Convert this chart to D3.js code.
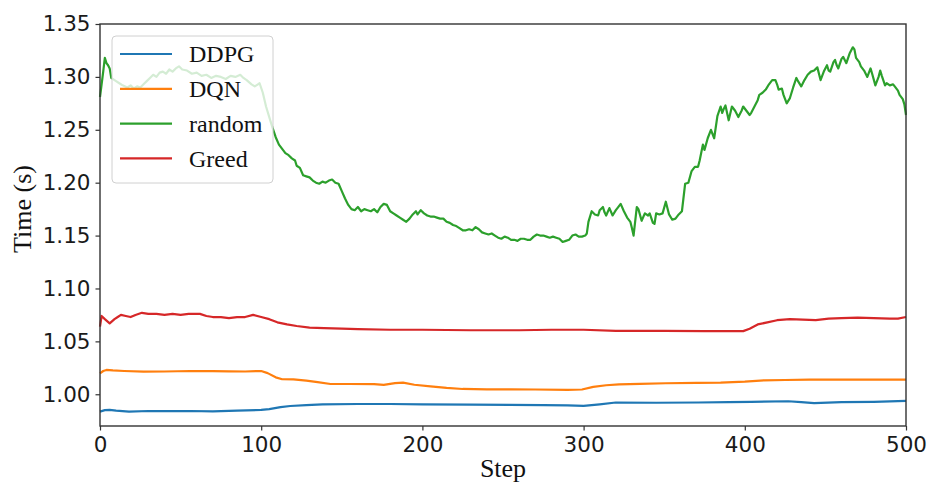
<!DOCTYPE html>
<html>
<head>
<meta charset="utf-8">
<script src="https://cdn.jsdelivr.net/npm/d3@7"></script>
<style>
  html, body { margin: 0; padding: 0; background: #fff; }
  svg { display: block; }
</style>
</head>
<body>
<svg id="chart" width="934" height="482"></svg>
<script>
// ---- data ----
const seriesNames = ["DDPG", "DQN", "random", "Greed"];
const seriesColors = ["#1f77b4", "#ff7f0e", "#2ca02c", "#d62728"];

const ddpgSteps = [0,3,6,10,18,30,45,56,70,85,100,105,112,118,128,138,160,180,200,230,254,275,290,300,310,320,345,371,390,404,427,435,443,460,480,500];
const ddpgValues = [0.9836,0.985,0.9852,0.9845,0.9836,0.9842,0.984,0.9842,0.9838,0.9845,0.9852,0.986,0.9878,0.9889,0.9898,0.9905,0.9908,0.9908,0.9905,0.9902,0.9899,0.9898,0.9895,0.989,0.9905,0.9922,0.992,0.9922,0.9925,0.9928,0.9934,0.9925,0.9916,0.9925,0.9928,0.9937];

const dqnSteps = [0,2,4,8,15,27,40,56,70,80,90,100,104,109,113,120,128,135,143,155,170,176,183,188,195,205,215,225,240,255,270,290,299,306,314,322,335,351,370,385,400,412,425,440,460,480,500];
const dqnValues = [1.0198,1.022,1.023,1.0225,1.022,1.0214,1.0215,1.022,1.0218,1.0217,1.0215,1.022,1.020,1.016,1.0142,1.014,1.0129,1.0115,1.0097,1.0097,1.0095,1.0088,1.0105,1.011,1.009,1.0075,1.006,1.005,1.0047,1.0047,1.0045,1.0042,1.0045,1.007,1.0085,1.0094,1.0098,1.0104,1.0108,1.011,1.0119,1.0132,1.0135,1.0138,1.0138,1.0138,1.0138];

const randomSteps = [0,2,3,4,5,6,7,9,12,14,17,19,21,23,25,27,29,31,33,35,37,39,41,43,45,47,49,51,54,57,60,63,66,69,72,75,78,81,84,87,89,91,94,96,98,99,101,103,105,107,109,111,113,115,117,119,121,122,124,126,128,130,132,134,136,138,140,142,144,146,148,150,152,154,156,158,160,162,164,166,168,170,172,174,176,178,180,182,184,186,188,190,192,194,196,197,199,201,203,205,207,209,211,213,215,217,219,221,223,225,227,229,231,233,235,237,239,241,243,245,247,249,251,253,255,257,259,261,263,265,267,269,271,273,275,277,279,281,283,285,287,289,291,293,295,297,299,301,302,303,305,307,309,310,312,313,314,316,318,320,321,323,325,327,329,330,331,333,334,336,338,340,341,343,344,345,347,349,351,353,355,357,359,361,363,365,367,369,371,372,374,375,377,379,381,383,385,386,387,388,390,392,394,396,398,399,401,403,404,406,408,409,411,413,415,417,419,420,421,423,424,426,428,430,432,433,435,437,439,441,443,445,447,449,451,452,453,455,456,457,458,460,461,463,465,467,468,469,471,472,474,476,478,479,481,483,484,485,487,488,490,492,493,495,496,498,499,500];
const randomValues = [1.281,1.305,1.318,1.313,1.311,1.308,1.299,1.297,1.294,1.292,1.290,1.292,1.289,1.291,1.290,1.293,1.296,1.299,1.302,1.300,1.304,1.305,1.303,1.307,1.305,1.308,1.310,1.307,1.306,1.303,1.304,1.301,1.302,1.299,1.301,1.300,1.298,1.301,1.300,1.302,1.299,1.297,1.293,1.291,1.293,1.294,1.285,1.272,1.262,1.252,1.243,1.236,1.232,1.228,1.226,1.223,1.221,1.216,1.214,1.207,1.206,1.205,1.202,1.200,1.199,1.201,1.200,1.202,1.203,1.200,1.199,1.192,1.185,1.179,1.175,1.174,1.177,1.173,1.175,1.174,1.173,1.175,1.172,1.177,1.180,1.179,1.173,1.171,1.169,1.167,1.165,1.163,1.166,1.170,1.173,1.170,1.174,1.171,1.169,1.168,1.168,1.167,1.166,1.166,1.163,1.162,1.160,1.159,1.157,1.155,1.155,1.156,1.155,1.158,1.156,1.153,1.152,1.151,1.152,1.150,1.148,1.147,1.149,1.148,1.146,1.146,1.145,1.147,1.147,1.146,1.146,1.149,1.151,1.150,1.150,1.149,1.148,1.149,1.148,1.147,1.144,1.145,1.146,1.150,1.151,1.149,1.149,1.150,1.152,1.163,1.173,1.170,1.169,1.174,1.177,1.172,1.169,1.176,1.169,1.174,1.176,1.180,1.173,1.167,1.163,1.157,1.150,1.177,1.175,1.164,1.171,1.169,1.171,1.162,1.161,1.171,1.170,1.171,1.182,1.170,1.165,1.166,1.170,1.173,1.199,1.200,1.211,1.215,1.215,1.221,1.236,1.231,1.242,1.250,1.242,1.263,1.272,1.266,1.270,1.273,1.259,1.272,1.268,1.262,1.268,1.272,1.268,1.264,1.266,1.272,1.278,1.283,1.285,1.288,1.293,1.297,1.297,1.293,1.288,1.289,1.283,1.275,1.280,1.290,1.299,1.296,1.291,1.297,1.302,1.305,1.306,1.309,1.297,1.305,1.311,1.306,1.305,1.314,1.316,1.311,1.308,1.317,1.319,1.313,1.322,1.328,1.326,1.318,1.314,1.310,1.306,1.300,1.308,1.303,1.292,1.300,1.306,1.301,1.292,1.294,1.292,1.293,1.291,1.287,1.283,1.279,1.274,1.264];

const greedSteps = [0,1,3,6,9,11,13,16,19,22,26,30,35,40,45,50,55,62,66,70,75,80,85,90,95,100,105,110,116,122,130,139,150,160,180,200,230,260,280,300,320,350,375,399,403,408,414,420,428,436,444,452,460,470,480,490,495,500];
const greedValues = [1.064,1.074,1.071,1.067,1.071,1.073,1.075,1.074,1.073,1.075,1.077,1.076,1.076,1.075,1.076,1.075,1.076,1.076,1.074,1.073,1.073,1.072,1.073,1.073,1.075,1.073,1.071,1.068,1.066,1.0645,1.063,1.0625,1.062,1.0615,1.061,1.061,1.0605,1.0605,1.061,1.061,1.060,1.060,1.0597,1.0597,1.062,1.066,1.068,1.070,1.071,1.0705,1.070,1.0715,1.072,1.0725,1.072,1.0715,1.0715,1.073];

const xTicks = [0, 100, 200, 300, 400, 500];
const yTicks = [1.00, 1.05, 1.10, 1.15, 1.20, 1.25, 1.30, 1.35];
const xLabel = "Step";
const yLabel = "Time (s)";

// ---- chart ----
const svg = d3.select("#chart");
const plotLeft = 100, plotRight = 906, plotTop = 24, plotBottom = 426;

const x = d3.scaleLinear().domain([0, 500]).range([plotLeft, plotRight]);
const y = d3.scaleLinear().domain([0.97, 1.35]).range([plotBottom, plotTop]);

const series = [
  { name: seriesNames[0], color: seriesColors[0], steps: ddpgSteps, values: ddpgValues },
  { name: seriesNames[1], color: seriesColors[1], steps: dqnSteps, values: dqnValues },
  { name: seriesNames[2], color: seriesColors[2], steps: randomSteps, values: randomValues },
  { name: seriesNames[3], color: seriesColors[3], steps: greedSteps, values: greedValues }
];

const line = d3.line().x(d => x(d[0])).y(d => y(d[1]));

svg.append("g").selectAll("path")
  .data(series)
  .join("path")
  .attr("d", s => line(s.steps.map((st, i) => [st, s.values[i]])))
  .attr("fill", "none")
  .attr("stroke", s => s.color)
  .attr("stroke-width", 2.2)
  .attr("stroke-linejoin", "round");

// axes
const tickFont = "'DejaVu Sans', sans-serif";
const xAxis = svg.append("g")
  .attr("transform", `translate(0,${plotBottom})`)
  .call(d3.axisBottom(x).tickValues(xTicks).tickFormat(d3.format("d")).tickSize(4.5).tickPadding(6).tickSizeOuter(0));
const yAxis = svg.append("g")
  .attr("transform", `translate(${plotLeft},0)`)
  .call(d3.axisLeft(y).tickValues(yTicks).tickFormat(d3.format(".2f")).tickSize(4.5).tickPadding(5).tickSizeOuter(0));

[xAxis, yAxis].forEach(g => {
  g.select(".domain").remove();
  g.selectAll(".tick line").attr("stroke", "#333").attr("stroke-width", 1.2);
  g.selectAll(".tick text").attr("font-family", tickFont).attr("font-size", 21.5).attr("fill", "#1a1a1a");
});

// frame
svg.append("rect")
  .attr("x", plotLeft).attr("y", plotTop)
  .attr("width", plotRight - plotLeft).attr("height", plotBottom - plotTop)
  .attr("fill", "none").attr("stroke", "#333").attr("stroke-width", 1.4);

// axis labels
const serif = "'Liberation Serif', 'Times New Roman', serif";
svg.append("text")
  .attr("x", (plotLeft + plotRight) / 2).attr("y", 477)
  .attr("text-anchor", "middle")
  .attr("font-family", serif).attr("font-size", 26).attr("fill", "#111")
  .text(xLabel);
svg.append("text")
  .attr("transform", `translate(31,${(plotTop + plotBottom) / 2 - 16}) rotate(-90)`)
  .attr("text-anchor", "middle")
  .attr("font-family", serif).attr("font-size", 26).attr("fill", "#111")
  .text(yLabel);

// legend
const lg = svg.append("g");
lg.append("rect")
  .attr("x", 112).attr("y", 36).attr("width", 161).attr("height", 147)
  .attr("rx", 4).attr("ry", 4)
  .attr("fill", "#fff").attr("fill-opacity", 0.8)
  .attr("stroke", "#d0d0d0").attr("stroke-width", 1);
const items = lg.selectAll("g.item").data(series).join("g")
  .attr("transform", (d, i) => `translate(0,${54 + i * 34.8})`);
items.append("line")
  .attr("x1", 120).attr("x2", 172).attr("y1", 0).attr("y2", 0)
  .attr("stroke", d => d.color).attr("stroke-width", 2.2);
items.append("text")
  .attr("x", 189).attr("y", 0).attr("dy", "0.34em")
  .attr("font-family", serif).attr("font-size", 24).attr("fill", "#111")
  .text(d => d.name);
</script>
</body>
</html>
